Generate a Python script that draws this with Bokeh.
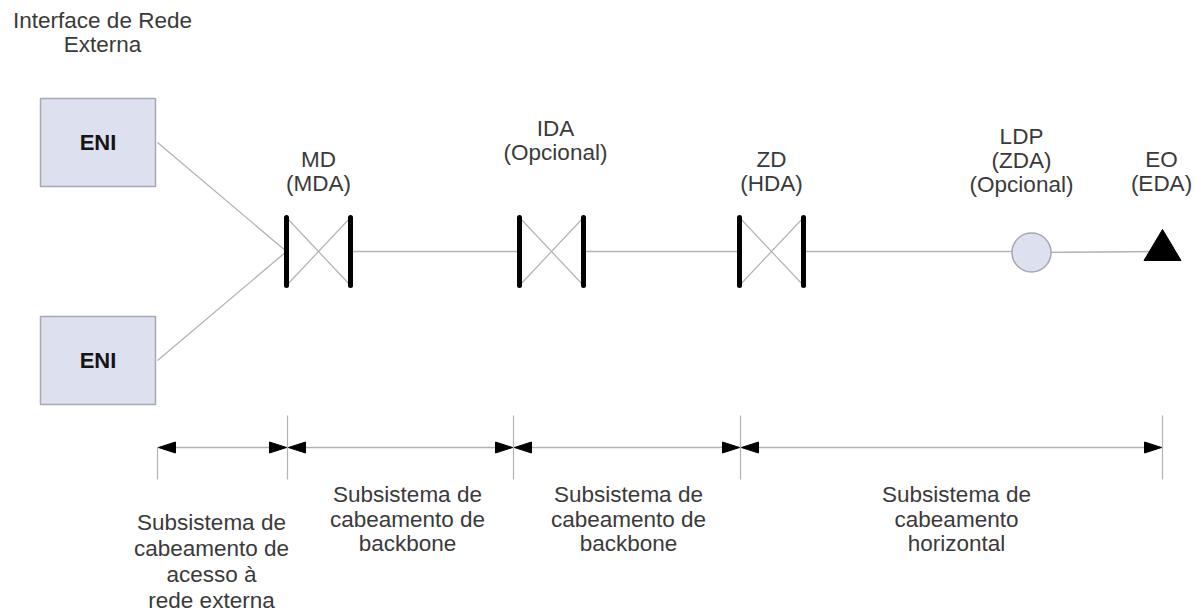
from bokeh.plotting import figure
from bokeh.models import Range1d
from bokeh.core.properties import value
from bokeh.embed import file_html
from bokeh.resources import INLINE

# ---------------- data ----------------
title_lines = ["Interface de Rede", "Externa"]
eni_labels = ["ENI", "ENI"]
eni_cy = [142, 360]

node_names = ["MD", "IDA", "ZD", "LDP", "EO"]
node_x = [318, 551, 771, 1031, 1162]
node_labels = [["MD", "(MDA)"], ["IDA", "(Opcional)"], ["ZD", "(HDA)"],
               ["LDP", "(ZDA)", "(Opcional)"], ["EO", "(EDA)"]]
node_label_x = [318, 555, 771, 1021, 1161]
node_label_top = [159, 128, 159, 136, 159]

bound_x = [157, 287, 513, 740, 1162]
segment_labels = [["Subsistema de", "cabeamento de", "acesso à", "rede externa"],
                  ["Subsistema de", "cabeamento de", "backbone"],
                  ["Subsistema de", "cabeamento de", "backbone"],
                  ["Subsistema de", "cabeamento", "horizontal"]]
segment_label_x = [211, 407, 628, 956]
segment_label_top = [522, 494, 494, 494]

# ---------------- styling / layout constants ----------------
W, H = 1196, 612
FONT = value("Liberation Sans")
TXT = "#3a3a3a"
BOX_FILL = "#dde1ef"
BOX_LINE = "#a6a8b2"
THIN = "#b2b2b2"
LINE_Y = 251
BAR_HALF = 34
HALF_W = 32
ENI_L, ENI_R, ENI_HALF = 40, 155, 44
DIM_Y = 447
HEAD_L, HEAD_H = 17, 5.5

p = figure(width=W, height=H, x_range=Range1d(0, W), y_range=Range1d(H, 0),
           output_backend="svg", toolbar_location=None, min_border=0)
p.axis.visible = False
p.grid.visible = False
p.outline_line_color = None
p.background_fill_color = "white"
p.border_fill_color = "white"

def lines(x, top, texts, ls, size="22.5px"):
    p.text(x=[x] * len(texts), y=[top + i * ls for i in range(len(texts))], text=texts,
           text_align="center", text_baseline="middle", text_font=FONT,
           text_font_size=size, text_color=TXT)

# title
lines(102, 20, title_lines, 24)

# ENI boxes
p.quad(left=[ENI_L] * 2, right=[ENI_R] * 2,
       top=[c - ENI_HALF for c in eni_cy], bottom=[c + ENI_HALF for c in eni_cy],
       fill_color=BOX_FILL, line_color=BOX_LINE, line_width=1.5)
p.text(x=[(ENI_L + ENI_R) / 2] * 2, y=eni_cy, text=eni_labels,
       text_align="center", text_baseline="middle", text_font=FONT,
       text_font_size="22px", text_font_style="bold", text_color="#151515")

# ENI -> MD lines
md_left = node_x[0] - HALF_W
p.segment(x0=[ENI_R + 2] * 2, y0=eni_cy, x1=[md_left] * 2, y1=[LINE_Y] * 2,
          line_color=THIN, line_width=1.3)

# main horizontal line
dist_x = node_x[:3]
starts = [x + HALF_W for x in dist_x]
ends = [x - HALF_W for x in dist_x[1:]] + [node_x[3]]
p.segment(x0=starts, y0=[LINE_Y] * 3, x1=ends, y1=[LINE_Y] * 3, line_color=THIN, line_width=1.3)
p.segment(x0=[node_x[3]], y0=[LINE_Y + 1], x1=[node_x[4]], y1=[LINE_Y], line_color=THIN, line_width=1.3)

# distributor symbols (cross + thick bars)
for x in dist_x:
    l, r = x - HALF_W, x + HALF_W
    p.segment(x0=[l, l], y0=[LINE_Y - BAR_HALF, LINE_Y + BAR_HALF],
              x1=[r, r], y1=[LINE_Y + BAR_HALF, LINE_Y - BAR_HALF],
              line_color=THIN, line_width=1.2)
    p.segment(x0=[l, r], y0=[LINE_Y - BAR_HALF] * 2, x1=[l, r], y1=[LINE_Y + BAR_HALF] * 2,
              line_color="black", line_width=5, line_cap="round")

# LDP circle
p.circle(x=[node_x[3]], y=[LINE_Y + 1], radius=19.5, fill_color=BOX_FILL,
         line_color=BOX_LINE, line_width=1.5)

# EO triangle
ex = node_x[4]
p.patch(x=[ex - 18.5, ex, ex + 18.5], y=[LINE_Y + 9, LINE_Y - 22, LINE_Y + 9],
        fill_color="black", line_color="black")

# node labels
for x, top, lab in zip(node_label_x, node_label_top, node_labels):
    lines(x, top, lab, 24)

# dimension lines: ticks
tick_top = [DIM_Y] + [415] * (len(bound_x) - 1)
p.segment(x0=bound_x, y0=tick_top, x1=bound_x, y1=[479] * len(bound_x),
          line_color=THIN, line_width=1.2)
# shafts
p.segment(x0=bound_x[:-1], y0=[DIM_Y] * (len(bound_x) - 1), x1=bound_x[1:],
          y1=[DIM_Y] * (len(bound_x) - 1), line_color=THIN, line_width=1.5)
# arrow heads
hx, hy = [], []
for a, b in zip(bound_x[:-1], bound_x[1:]):
    hx.append([a + 1, a + 1 + HEAD_L, a + 1 + HEAD_L])
    hy.append([DIM_Y, DIM_Y - HEAD_H, DIM_Y + HEAD_H])
    hx.append([b - 1, b - 1 - HEAD_L, b - 1 - HEAD_L])
    hy.append([DIM_Y, DIM_Y - HEAD_H, DIM_Y + HEAD_H])
p.patches(xs=hx, ys=hy, fill_color="black", line_color="black", line_width=1)

# segment labels
lab_ls = [26, 24.5, 24.5, 24.5]
for x, top, lab, ls in zip(segment_label_x, segment_label_top, segment_labels, lab_ls):
    lines(x, top, lab, ls)

open("out.html", "w").write(file_html(p, INLINE))
